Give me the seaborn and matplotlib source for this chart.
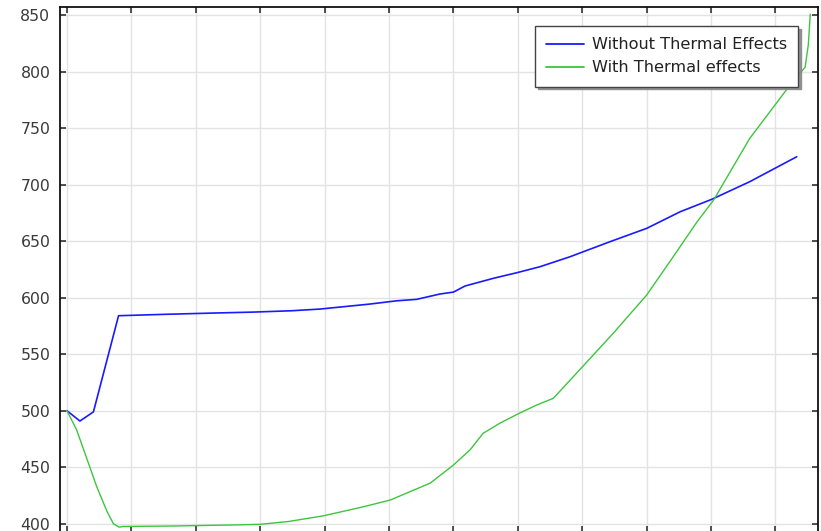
import matplotlib
matplotlib.use("Agg")
import matplotlib.pyplot as plt
import seaborn as sns
import pandas as pd

# Curve without thermal effects
x_plain = [0.0, 0.2, 0.41, 0.80, 1.5, 2.3, 2.89, 3.49, 3.93, 4.7, 5.12, 5.43,
           5.79, 6.0, 6.18, 6.62, 6.98, 7.34, 7.81, 8.43, 9.0, 9.52, 10.01,
           10.6, 11.33]
y_plain = [500, 490.9, 499, 584.1, 585.3, 586.5, 587.3, 588.5, 590, 594.4,
           597.3, 598.6, 603.3, 605, 610.4, 617.2, 622.1, 627.4, 636.3, 649.6,
           661.4, 676.1, 687.1, 702.7, 724.8]

# Curve with thermal effects
x_thermal = [0.0, 0.15, 0.33, 0.46, 0.62, 0.72, 0.81, 0.87, 1.65, 2.63, 3.0,
             3.44, 3.98, 4.6, 5.02, 5.64, 6.0, 6.26, 6.46, 6.72, 7.03, 7.29,
             7.55, 7.81, 8.48, 9.0, 9.36, 9.78, 10.04, 10.6, 11.25, 11.46,
             11.51, 11.54]
y_thermal = [500, 483, 454, 433, 411, 400, 397, 397.6, 398, 399, 399.5, 402,
             407, 415, 421, 436, 452, 465.5, 480, 489, 498, 505, 511, 527,
             568.5, 602.4, 632, 667, 686.5, 741, 790, 804, 824, 851]

labels = ["Without Thermal Effects", "With Thermal effects"]
y_ticks = [400, 450, 500, 550, 600, 650, 700, 750, 800, 850]
x_ticks = list(range(12))

df = pd.concat([
    pd.DataFrame({"x": x_plain, "y": y_plain, "series": labels[0]}),
    pd.DataFrame({"x": x_thermal, "y": y_thermal, "series": labels[1]}),
], ignore_index=True)

sns.set_style("white")
plt.rcParams["font.family"] = ["DejaVu Sans"]

fig = plt.figure(figsize=(8.21, 5.31), dpi=100)
ax = fig.add_axes([60 / 821, -1 / 531, 758 / 821, 525 / 531])

palette = {labels[0]: "#1a1aff", labels[1]: "#3cc63c"}
sns.lineplot(data=df, x="x", y="y", hue="series", palette=palette,
             sort=False, estimator=None, ax=ax, legend=False)
for line, lw in zip(ax.lines, [1.2, 1.0]):
    line.set_linewidth(lw)

ax.set_xlim(-0.109, 11.66)
ax.set_ylim(392.7, 857.3)
ax.set_xticks(x_ticks)
ax.set_yticks(y_ticks)
ax.set_xlabel("")
ax.set_ylabel("")

ax.grid(True, color="#e3e3e3", linewidth=1.0)
ax.set_axisbelow(True)
for side in ["left", "right", "top", "bottom"]:
    ax.spines[side].set_visible(True)
    ax.spines[side].set_color("#111111")
    ax.spines[side].set_linewidth(1.3)

ax.tick_params(axis="both", direction="in", length=4.5, width=1.1,
               color="#222222", top=True, right=True, bottom=True, left=True,
               labelbottom=False, labelsize=11.3, labelcolor="#3a3a3a", pad=7)

handles = [plt.Line2D([], [], color=palette[l], linewidth=1.3) for l in labels]
leg = ax.legend(handles, labels, loc="upper right",
                bbox_to_anchor=(0.9736, 0.9638), borderaxespad=0,
                frameon=True, fancybox=False,
                shadow={"color": "#888888", "alpha": 0.9},
                fontsize=11.6, handlelength=2.3, handletextpad=0.5,
                borderpad=0.7, labelspacing=0.5)
leg.get_frame().set_edgecolor("#444444")
leg.get_frame().set_linewidth(1.0)
for t in leg.get_texts():
    t.set_color("#222222")

fig.savefig("out.png", dpi=100)
